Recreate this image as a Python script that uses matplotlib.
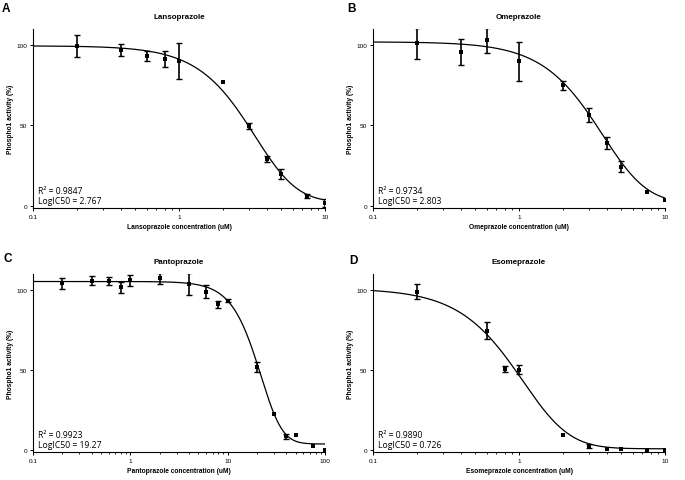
import numpy as np
import matplotlib.pyplot as plt
from matplotlib.ticker import LogLocator, FixedLocator, FuncFormatter, NullFormatter

plt.rcParams['font.family'] = 'Liberation Sans'

# --- data (concentration uM, activity %, SEM) ---
lanso_x = [0.2, 0.4, 0.6, 0.8, 1, 2, 3, 4, 5, 7.5, 10]
lanso_y = [99.4, 96.7, 93.1, 91.5, 90.0, 76.9, 49.4, 29.0, 19.6, 6.0, 1.5]
lanso_err = [6.8, 3.8, 3.1, 4.9, 11.0, 0, 2.0, 2.0, 3.1, 1.4, 2.6]

omep_x = [0.2, 0.4, 0.6, 1, 2, 3, 4, 5, 7.5, 10]
omep_y = [101.2, 95.6, 102.9, 89.8, 74.9, 56.4, 38.8, 24.3, 8.5, 3.3]
omep_err = [9.6, 8.2, 7.8, 12.0, 2.8, 4.6, 3.8, 3.5, 0, 0]

panto_x = [0.2, 0.4, 0.6, 0.8, 1, 2, 4, 6, 8, 10, 20, 30, 40, 50, 75, 100]
panto_y = [104.1, 105.8, 105.8, 101.7, 106.0, 107.2, 103.9, 99.0, 90.9, 93.4,
           51.8, 22.2, 8.3, 9.1, 2.1, 0.0]
panto_err = [3.7, 3.0, 2.5, 3.5, 3.5, 3.5, 7.0, 4.0, 2.5, 1.0, 3.0, 0, 1.5, 0, 0, 0]

esome_x = [0.2, 0.6, 0.8, 1, 2, 3, 4, 5, 7.5, 10]
esome_y = [99.0, 74.4, 50.5, 50.1, 9.4, 2.3, 0.3, 0.2, 0.0, 0.0]
esome_err = [4.7, 5.4, 2.0, 2.6, 0, 1.0, 0, 0, 0, 0]

names = ["Lansoprazole", "Omeprazole", "Pantoprazole", "Esomeprazole"]
letters = ["A", "B", "C", "D"]
r2 = ["0.9847", "0.9734", "0.9923", "0.9890"]
ic50 = ["2.767", "2.803", "19.27", "0.726"]
xmax = [10, 10, 100, 10]

# fitted curve parameters: top, bottom, midpoint, slope, asymmetry
fits = [
    (99.5, 2.0, 5.76, 2.0, 3.0),
    (102.0, 1.5, 6.69, 1.9, 3.0),
    (105.3, 3.5, 33.4, 2.61, 3.0),
    (101.0, 0.5, 1.96, 1.8, 3.0),
]

datasets = [(lanso_x, lanso_y, lanso_err), (omep_x, omep_y, omep_err),
            (panto_x, panto_y, panto_err), (esome_x, esome_y, esome_err)]


def curve(x, top, bottom, c, h, s):
    return bottom + (top - bottom) / (1 + (x / c) ** h) ** s


fig = plt.figure(figsize=(6.85, 4.81), dpi=100)
W, H = 685, 481
boxes = [(33, 30, 325, 209), (373, 30, 665, 209),
         (33, 275, 325, 453), (373, 275, 665, 453)]
letter_pos = [(2, 3), (347, 3), (3, 253), (349, 255)]

for i in range(4):
    x0, y0, x1, y1 = boxes[i]
    ax = fig.add_axes([x0 / W, 1 - y1 / H, (x1 - x0) / W, (y1 - y0) / H])
    x, y, e = (np.array(a, dtype=float) for a in datasets[i])

    xs = np.logspace(-1, np.log10(xmax[i]), 300)
    ax.plot(xs, curve(xs, *fits[i]), color='black', lw=0.9)

    m = e > 0
    ax.errorbar(x[m], y[m], yerr=e[m], fmt='none', ecolor='black',
                elinewidth=1.2, capsize=2.4, capthick=1.0)
    ax.plot(x, y, 's', color='black', ms=2.7, mew=0)

    ax.set_xscale('log')
    ax.set_xlim(0.1, xmax[i])
    ax.set_ylim(-1.5, 110)
    ax.set_yticks([0, 50, 100])
    ax.xaxis.set_major_locator(FixedLocator([0.1, 1, 10, 100][:3 if xmax[i] == 10 else 4]))
    ax.xaxis.set_major_formatter(FuncFormatter(lambda v, p: '%g' % v))
    ax.xaxis.set_minor_locator(LogLocator(base=10, subs=np.arange(2, 10)))
    ax.xaxis.set_minor_formatter(NullFormatter())
    for sp in ['top', 'right']:
        ax.spines[sp].set_visible(False)
    for sp in ['left', 'bottom']:
        ax.spines[sp].set_linewidth(0.8)
    ax.tick_params(axis='both', which='major', direction='out', length=2.5,
                   width=0.7, labelsize=4.6, pad=1.5)
    ax.tick_params(axis='x', which='minor', direction='out', length=1.6, width=0.6)

    ax.set_title(names[i], fontsize=5.8, fontweight='bold', pad=8)
    ax.set_xlabel(names[i] + " concentration (uM)", fontsize=4.8,
                  fontweight='bold', labelpad=3)
    ax.set_ylabel("Phospho1 activity (%)", fontsize=4.8, fontweight='bold',
                  labelpad=2)

    ax.text(0.018, 0.086, "R\u00b2 = " + r2[i], transform=ax.transAxes,
            fontsize=6.2, family='Open Sans', va='baseline')
    ax.text(0.018, 0.028, "LogIC50 = " + ic50[i], transform=ax.transAxes,
            fontsize=6.2, family='Open Sans', va='baseline')

    lx, ly = letter_pos[i]
    fig.text(lx / W, 1 - ly / H, letters[i], fontsize=8.5, fontweight='bold',
             va='top', ha='left')

fig.savefig('out.png', dpi=100)
